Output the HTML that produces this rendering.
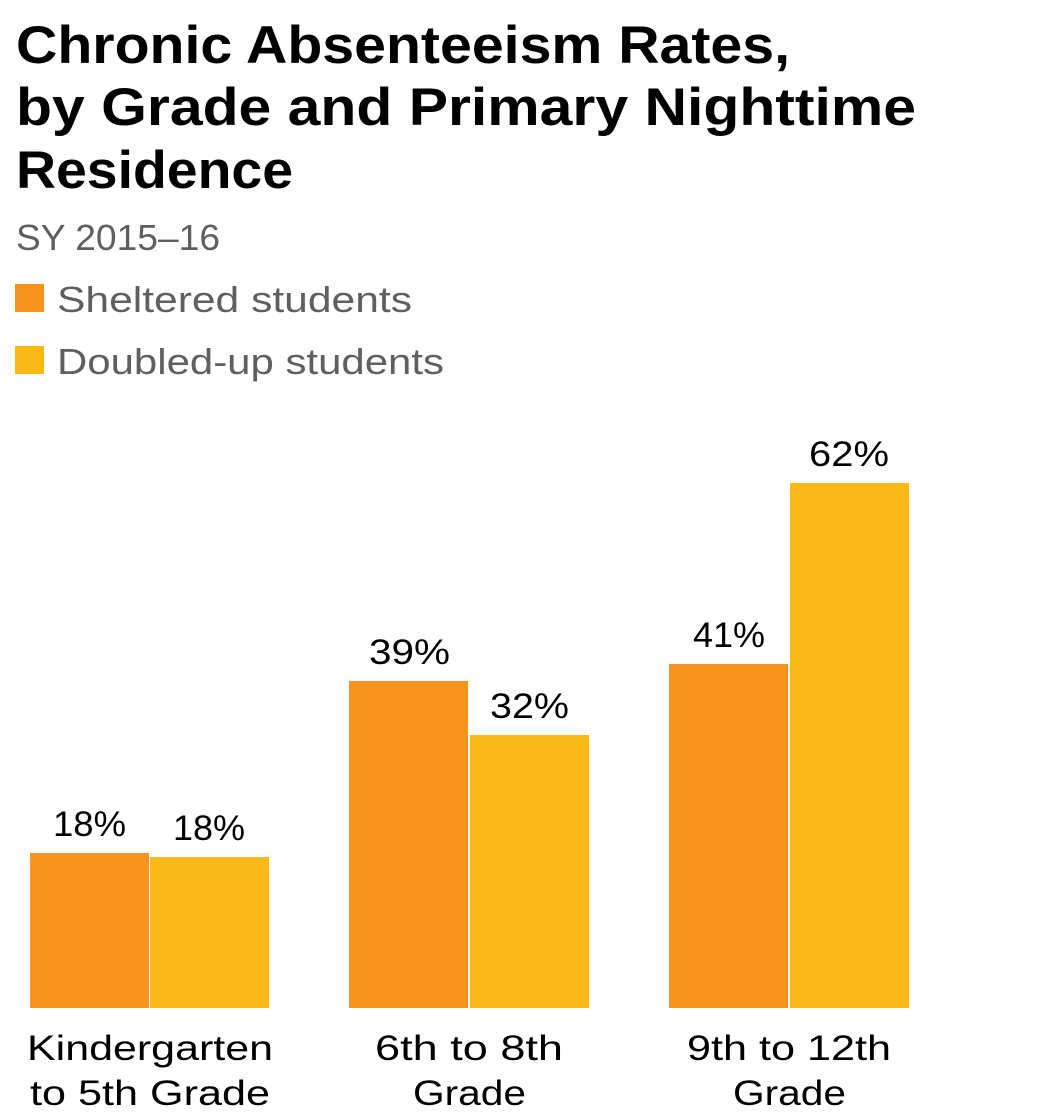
<!DOCTYPE html>
<html><head><meta charset="utf-8"><style>
html,body{margin:0;padding:0;background:#fff;}
svg{display:block;font-family:"Liberation Sans",sans-serif;}
</style></head><body>
<svg width="1050" height="1119" viewBox="0 0 1050 1119">
<g font-weight="bold" fill="#000" font-size="53">
<text x="16" y="63" textLength="774" lengthAdjust="spacingAndGlyphs">Chronic Absenteeism Rates,</text>
<text x="16" y="125" textLength="900" lengthAdjust="spacingAndGlyphs">by Grade and Primary Nighttime</text>
<text x="16" y="188" textLength="277" lengthAdjust="spacingAndGlyphs">Residence</text>
</g>
<g fill="#5f5f5f" font-size="36">
<text x="16" y="250" textLength="204" lengthAdjust="spacingAndGlyphs">SY 2015–16</text>
<text x="57" y="312" textLength="355" lengthAdjust="spacingAndGlyphs">Sheltered students</text>
<text x="57" y="374" textLength="387" lengthAdjust="spacingAndGlyphs">Doubled-up students</text>
</g>
<rect x="15" y="284" width="29" height="28" fill="#F7941E"/>
<rect x="15" y="346" width="29" height="28" fill="#FBB917"/>
<g>
<rect x="30" y="853" width="119" height="155" fill="#F7941E"/>
<rect x="150" y="857" width="119" height="151" fill="#FBB917"/>
<rect x="349" y="681" width="119" height="327" fill="#F7941E"/>
<rect x="470" y="735" width="119" height="273" fill="#FBB917"/>
<rect x="669" y="664" width="119" height="344" fill="#F7941E"/>
<rect x="790" y="483" width="119" height="525" fill="#FBB917"/>
</g>
<g fill="#000" font-size="35" lengthAdjust="spacingAndGlyphs">
<text x="53" y="836" textLength="73" lengthAdjust="spacingAndGlyphs">18%</text>
<text x="173" y="840" textLength="72" lengthAdjust="spacingAndGlyphs">18%</text>
<text x="369" y="664" textLength="81" lengthAdjust="spacingAndGlyphs">39%</text>
<text x="490" y="718" textLength="79" lengthAdjust="spacingAndGlyphs">32%</text>
<text x="693" y="647" textLength="72" lengthAdjust="spacingAndGlyphs">41%</text>
<text x="809" y="466" textLength="80" lengthAdjust="spacingAndGlyphs">62%</text>
<text x="27" y="1060" textLength="246" lengthAdjust="spacingAndGlyphs">Kindergarten</text>
<text x="30" y="1105" textLength="240" lengthAdjust="spacingAndGlyphs">to 5th Grade</text>
<text x="375" y="1060" textLength="188" lengthAdjust="spacingAndGlyphs">6th to 8th</text>
<text x="413" y="1105" textLength="113" lengthAdjust="spacingAndGlyphs">Grade</text>
<text x="687" y="1060" textLength="204" lengthAdjust="spacingAndGlyphs">9th to 12th</text>
<text x="733" y="1105" textLength="113" lengthAdjust="spacingAndGlyphs">Grade</text>
</g>
</svg>
</body></html>
